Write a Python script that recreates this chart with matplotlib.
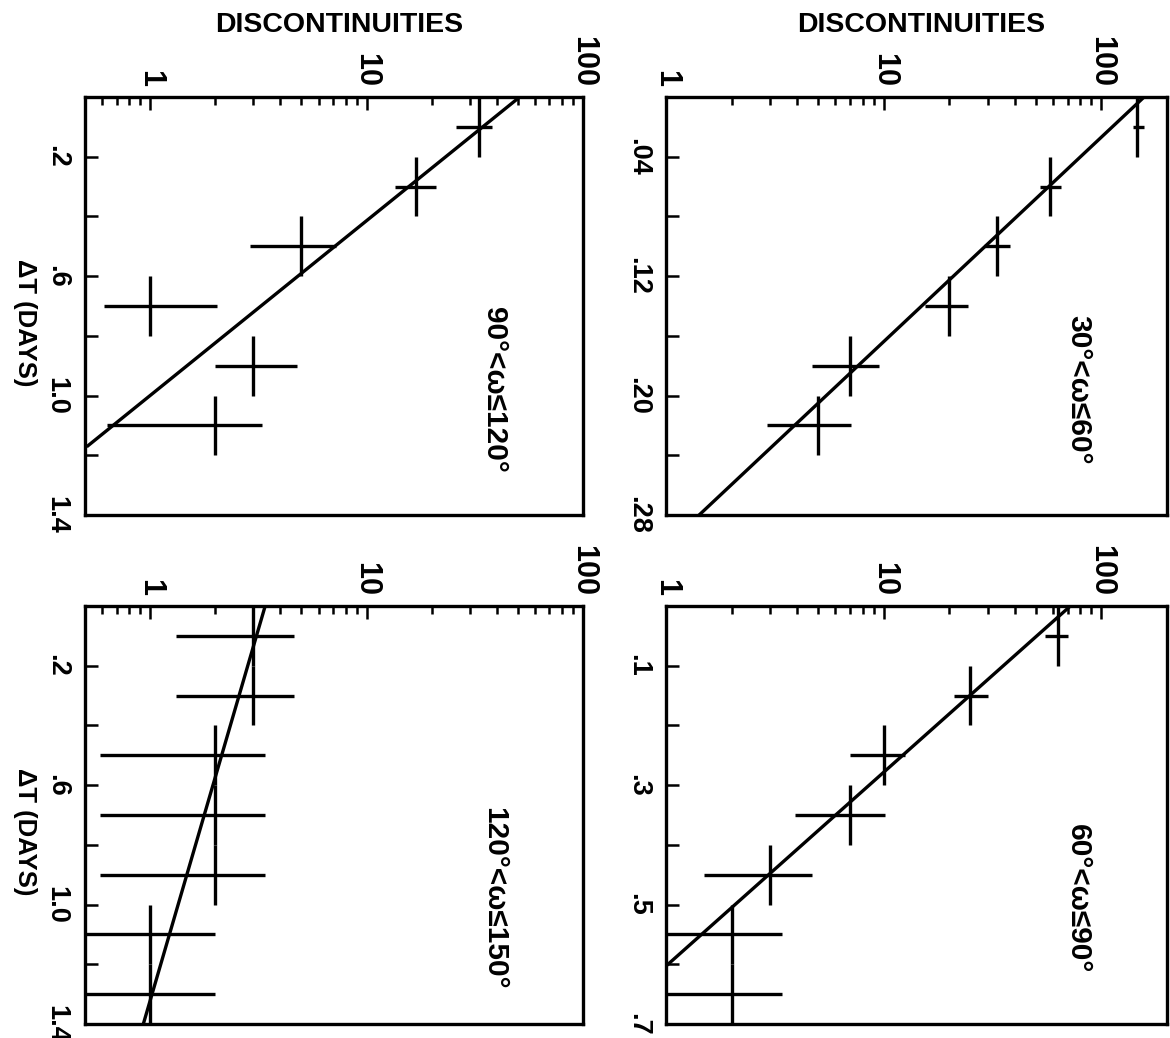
import numpy as np
import matplotlib
matplotlib.use('Agg')
import matplotlib.pyplot as plt
from matplotlib.ticker import FixedLocator, FixedFormatter, LogLocator, NullFormatter

FONT = ['Liberation Sans', 'DejaVu Sans']

# 30 < w <= 60
dt_a = [0.02, 0.06, 0.10, 0.14, 0.18, 0.22]
n_a = [146, 58, 33, 20, 7, 5]
lo_a = [139, 52, 29, 15.4, 4.7, 2.9]
hi_a = [156, 65, 38, 24.3, 9.5, 7.1]
fit_t_a = [0, 0.28]
fit_n_a = [157, 1.42]

# 60 < w <= 90
dt_b = [0.05, 0.15, 0.25, 0.35, 0.45, 0.55, 0.65]
n_b = [63, 25, 10, 7, 3, 2, 2]
lo_b = [55, 21, 7.0, 3.9, 1.5, 0.5, 0.5]
hi_b = [70, 30, 12.5, 10.1, 4.7, 3.4, 3.4]
fit_t_b = [0, 0.603]
fit_n_b = [72, 1.0]

# 90 < w <= 120
dt_c = [0.1, 0.3, 0.5, 0.7, 0.9, 1.1]
n_c = [33, 17, 5, 1, 3, 2]
lo_c = [26, 13.5, 2.9, 0.61, 2.0, 0.63]
hi_c = [38, 21, 7.2, 2.03, 4.75, 3.3]
fit_t_c = [0, 1.168]
fit_n_c = [51, 0.516]

# 120 < w <= 150
dt_d = [0.1, 0.3, 0.5, 0.7, 0.9, 1.1, 1.3]
n_d = [3, 3, 2, 2, 2, 1, 1]
lo_d = [1.31, 1.31, 0.585, 0.585, 0.585, 0.3, 0.3]
hi_d = [4.6, 4.6, 3.4, 3.4, 3.4, 2.0, 2.0]
fit_t_d = [0, 1.4]
fit_n_d = [3.4, 0.93]

count_ticks = [1, 10, 100]
count_labels = ['1', '10', '100']

fig = plt.figure(figsize=(11.7, 10.38), dpi=100)

W, H = 1170, 1038
def box(x0, x1, y0, y1):
    return [x0 / W, (H - y1) / H, (x1 - x0) / W, (y1 - y0) / H]

panels = [
    # position, data, bin half width, ylim, labelled ticks, labels, minor ticks, xlim, text
    (box(666, 1167, 97, 515), dt_a, n_a, lo_a, hi_a, 0.02, fit_t_a, fit_n_a, 0.28,
     [0.04, 0.12, 0.20, 0.28], ['.04', '.12', '.20', '.28'], [0.08, 0.16, 0.24],
     (1, 200), '30°<ω≤60°', True, False),
    (box(666, 1167, 606, 1024), dt_b, n_b, lo_b, hi_b, 0.05, fit_t_b, fit_n_b, 0.7,
     [0.1, 0.3, 0.5, 0.7], ['.1', '.3', '.5', '.7'], [0.2, 0.4, 0.6],
     (1, 200), '60°<ω≤90°', False, False),
    (box(85, 583, 97, 515), dt_c, n_c, lo_c, hi_c, 0.1, fit_t_c, fit_n_c, 1.4,
     [0.2, 0.6, 1.0, 1.4], ['.2', '.6', '1.0', '1.4'], [0.4, 0.8, 1.2],
     (0.5, 100), '90°<ω≤120°', True, True),
    (box(85, 583, 606, 1024), dt_d, n_d, lo_d, hi_d, 0.1, fit_t_d, fit_n_d, 1.4,
     [0.2, 0.6, 1.0, 1.4], ['.2', '.6', '1.0', '1.4'], [0.4, 0.8, 1.2],
     (0.5, 100), '120°<ω≤150°', False, True),
]

for (pos, dt, n, lo, hi, hw, ft, fn, tmax, yt, ylab, ymin, xl, txt, top, left) in panels:
    ax = fig.add_axes(pos)
    n = np.array(n, float)
    xerr = [n - np.array(lo), np.array(hi) - n]
    ax.errorbar(n, dt, xerr=xerr, yerr=hw, fmt='none', ecolor='black',
                elinewidth=2.4, capsize=0)
    ax.plot(fn, ft, color='black', lw=2.4)

    ax.set_xscale('log')
    ax.set_xlim(*xl)
    ax.set_ylim(tmax, 0)

    ax.xaxis.set_major_locator(FixedLocator(count_ticks))
    ax.xaxis.set_major_formatter(FixedFormatter(count_labels))
    ax.xaxis.set_minor_locator(LogLocator(base=10, subs=np.arange(2, 10)))
    ax.xaxis.set_minor_formatter(NullFormatter())
    ax.yaxis.set_major_locator(FixedLocator(yt))
    ax.yaxis.set_major_formatter(FixedFormatter(ylab))
    ax.yaxis.set_minor_locator(FixedLocator(ymin))
    ax.yaxis.set_minor_formatter(NullFormatter())

    ax.tick_params(axis='x', which='both', direction='in', top=True, bottom=False,
                   labeltop=True, labelbottom=False, width=1.8, pad=7,
                   labelrotation=-90)
    ax.tick_params(axis='x', which='major', length=9)
    ax.tick_params(axis='x', which='minor', length=6)
    ax.tick_params(axis='y', which='both', direction='in', left=True, right=False,
                   length=9, width=1.8, pad=11, labelrotation=-90)
    for lbl in ax.get_xticklabels():
        lbl.set_fontfamily(FONT)
        lbl.set_fontweight('bold')
        lbl.set_fontsize(22)
        lbl.set_va('bottom')
        lbl.set_ha('center')
    for lbl in ax.get_yticklabels():
        lbl.set_fontfamily(FONT)
        lbl.set_fontweight('bold')
        lbl.set_fontsize(19.5)
        lbl.set_va('center')
        lbl.set_ha('right')

    for sp in ax.spines.values():
        sp.set_linewidth(2.4)

    ax.text(0.822, 0.30, txt, transform=ax.transAxes, rotation=-90,
            ha='center', va='center', fontsize=21.5, fontweight='bold',
            family=FONT)
    if top:
        ax.text(0.51, 1.172, 'DISCONTINUITIES', transform=ax.transAxes,
                ha='center', va='center', fontsize=20.5, fontweight='bold',
                family=FONT)
    if left:
        ax.text(-0.12, 0.46, 'ΔT (DAYS)', transform=ax.transAxes, rotation=-90,
                ha='center', va='center', fontsize=18.5, fontweight='bold',
                family=FONT)

fig.savefig('out.png', dpi=100)
